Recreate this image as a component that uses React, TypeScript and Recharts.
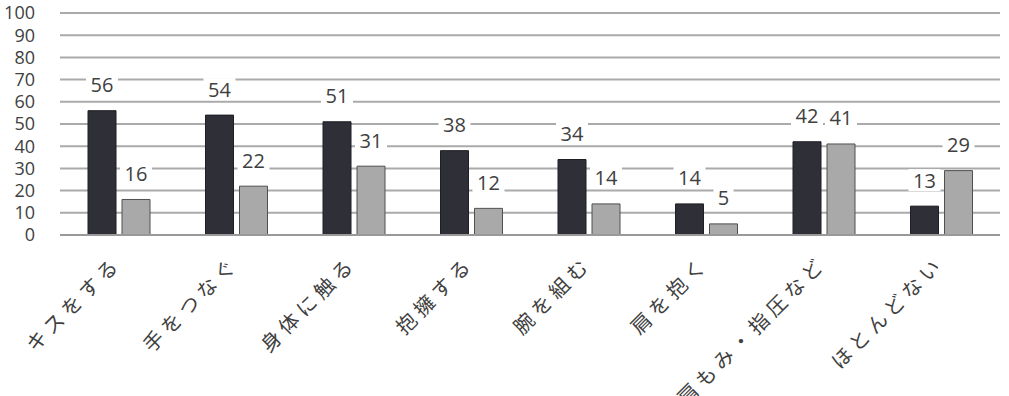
import React from 'react';
import { BarChart, Bar, XAxis, YAxis, CartesianGrid, LabelList } from 'recharts';

const categories = ['キスをする', '手をつなぐ', '身体に触る', '抱擁する', '腕を組む', '肩を抱く', '肩もみ・指圧など', 'ほとんどない'];
const seriesA = [56, 54, 51, 38, 34, 14, 42, 13];
const seriesB = [16, 22, 31, 12, 14, 5, 41, 29];
const yTicks = [0, 10, 20, 30, 40, 50, 60, 70, 80, 90, 100];

const data = categories.map((c, i) => ({ name: c, a: seriesA[i], b: seriesB[i] }));

const FONT = "'Open Sans', 'Noto Sans CJK JP', sans-serif";

const ValueLabel = (props: any) => {
  const { x, y, width, value } = props;
  const cx = x + width / 2;
  const cy = y - 26;
  const w = String(value).length * 12 + 8;
  return (
    <g>
      <rect x={cx - w / 2} y={cy - 11} width={w} height={22} fill="#ffffff" />
      <text x={cx} y={cy} textAnchor="middle" dominantBaseline="central" fontSize={20} fill="#404040" fontFamily={FONT}>
        {value}
      </text>
    </g>
  );
};

const XTick = (props: any) => {
  const { x, y, payload } = props;
  return (
    <g transform={`translate(${x + 4},${y + 30})`}>
      <text transform="rotate(-45)" textAnchor="end" fontSize={20} letterSpacing={5} fill="#404040" fontFamily="'Noto Sans CJK JP', sans-serif">
        {payload.value}
      </text>
    </g>
  );
};

export default function App() {
  return (
    <div style={{ position: 'absolute', left: 0, top: 0, width: 1009, height: 396, background: '#fff' }}>
      <BarChart
        width={1009}
        height={396}
        data={data}
        margin={{ top: 13, right: 9, bottom: 0, left: 0 }}
        barSize={28}
        barGap={6}
      >
        <CartesianGrid vertical={false} stroke="#aaaaaa" strokeWidth={2} />
        <XAxis
          dataKey="name"
          height={161}
          interval={0}
          tick={<XTick />}
          tickLine={false}
          tickSize={0}
          tickMargin={0}
          axisLine={{ stroke: '#999999', strokeWidth: 2 }}
        />
        <YAxis
          domain={[0, 100]}
          ticks={yTicks}
          interval={0}
          width={60}
          axisLine={false}
          tickLine={false}
          tickSize={0}
          tickMargin={25}
          tick={{ fontSize: 18, fill: '#404040', fontFamily: FONT }}
        />
        <Bar dataKey="a" fill="#2e2f37" stroke="#1e1e24" strokeWidth={1} isAnimationActive={false}>
          <LabelList dataKey="a" content={<ValueLabel />} />
        </Bar>
        <Bar dataKey="b" fill="#a9a9a9" stroke="#505050" strokeWidth={1} isAnimationActive={false}>
          <LabelList dataKey="b" content={<ValueLabel />} />
        </Bar>
      </BarChart>
    </div>
  );
}
